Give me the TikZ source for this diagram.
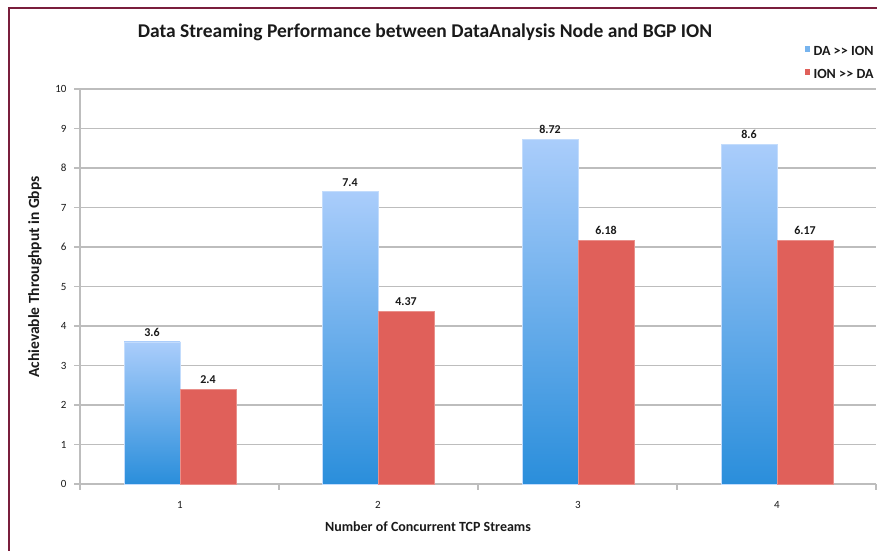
\documentclass[tikz,border=0pt]{standalone}
\usepackage{fontspec}
\setmainfont{Carlito}
\definecolor{frame}{HTML}{7A1E3C}
\definecolor{gridc}{HTML}{BDBDBD}
\definecolor{bluetop}{HTML}{AACDFB}
\definecolor{bluebot}{HTML}{2A8EDB}
\definecolor{redbar}{HTML}{E0605A}
\definecolor{txt}{HTML}{1A1A1A}
\newcommand{\gtgt}{>\kern0.3pt>}
\begin{document}
\begin{tikzpicture}[x=1pt,y=-1pt,
  gridline/.style={draw=gridc,line width=1.2pt},
  bluebar/.style={top color=bluetop,bottom color=bluebot,draw=bluetop!70!white,line width=0.6pt},
  redbarst/.style={fill=redbar,draw=redbar!70!white,line width=0.6pt},
  ticklbl/.style={font=\fontsize{11}{13}\selectfont,text=txt},
  vallbl/.style={font=\bfseries\fontsize{12}{14}\selectfont,text=txt},
  leglbl/.style={font=\bfseries\fontsize{14}{16}\selectfont,text=txt},
  axlbl/.style={font=\bfseries\fontsize{14}{16}\selectfont,text=txt}]
\useasboundingbox (0,0) rectangle (877,550);
\fill[white] (0,0) rectangle (877,550);
% frame
\draw[frame,line width=2pt] (9,551) -- (9,8) -- (878,8);
% grid
\foreach \v in {0,...,10}{
  \pgfmathsetmacro{\yy}{484-39.5*\v}
  \draw[gridline] (74,\yy) -- (876,\yy);
  \node[ticklbl,anchor=east] (yt\v) at (70,\yy) {\v};
}
\draw[gridline] (80,89) -- (80,490);
\foreach \i/\x in {1/279,2/478,3/677,4/876}{
  \draw[gridline] (\x,484) -- (\x,490);
}
% bars
\foreach \i/\c/\a/\b in {1/180/3.6/2.4,2/378/7.4/4.37,3/578/8.72/6.18,4/777/8.6/6.17}{
  \pgfmathsetmacro{\ya}{484-39.5*\a}
  \pgfmathsetmacro{\yb}{484-39.5*\b}
  \path[bluebar] (\c-56,484) rectangle (\c,\ya);
  \path[redbarst] (\c,484) rectangle (\c+56,\yb);
  \node[vallbl,anchor=south] (va\i) at (\c-28,\ya-2) {\a};
  \node[vallbl,anchor=south] (vb\i) at (\c+28,\yb-2) {\b};
  \node[ticklbl] (xt\i) at (\c,505) {\i};
}
% titles
\node[axlbl,font=\bfseries\fontsize{19.5}{22}\selectfont] (title) at (425,32) {Data Streaming Performance between DataAnalysis Node and BGP ION};
\node[axlbl] (xlab) at (428,527) {Number of Concurrent TCP Streams};
\node[axlbl,font=\bfseries\fontsize{15.5}{18}\selectfont,rotate=90] (ylab) at (35,277) {Achievable Throughput in Gbps};
% legend
\fill[bluetop!60!bluebot] (805,46) rectangle (810,52);
\node[leglbl,anchor=west] (lg1) at (810,51) {DA \gtgt{} ION};
\fill[redbar] (805,69) rectangle (810,75);
\node[leglbl,anchor=west] (lg2) at (810,74) {ION \gtgt{} DA};
\end{tikzpicture}
\end{document}
